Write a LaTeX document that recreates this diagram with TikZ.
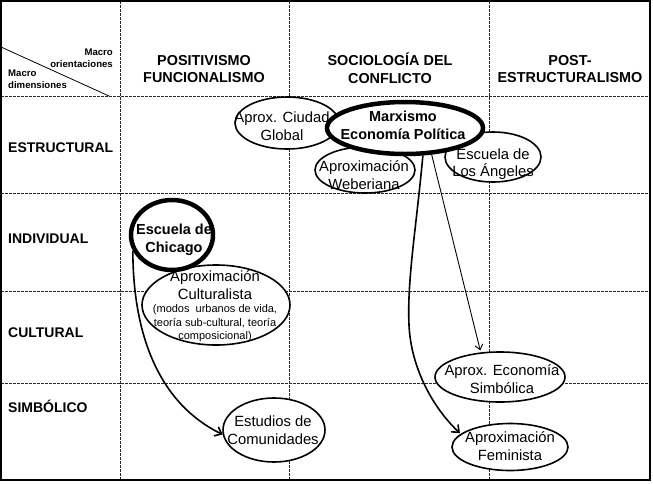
\documentclass[tikz,border=0pt]{standalone}
\usepackage{fontspec}
\setmainfont{Liberation Sans}
\usetikzlibrary{shapes.geometric,arrows.meta}
\begin{document}
\begin{tikzpicture}[x=1pt,y=-1pt,
  gridline/.style={line width=0.7pt, dash pattern=on 2.5pt off 1.5pt, black!85},
  ell/.style={draw, ellipse, fill=white, line width=1.6pt, inner sep=0pt},
  thickell/.style={ell, line width=4.5pt},
  etext/.style={align=center, font=\fontsize{14.8}{17.5}\selectfont, inner sep=0pt},
  btext/.style={align=center, font=\bfseries\fontsize{14.5}{18}\selectfont, inner sep=0pt},
  stext/.style={align=center, font=\fontsize{11}{13.5}\selectfont, inner sep=0pt},
  hdr/.style={align=center, font=\bfseries\fontsize{14.4}{17.5}\selectfont, inner sep=0pt},
  rowlab/.style={anchor=base west, font=\bfseries\fontsize{14}{17}\selectfont, inner sep=0pt},
  corner/.style={font=\bfseries\fontsize{9.6}{11.5}\selectfont, inner sep=0pt},
  arr/.style={line width=1.6pt, -{Straight Barb[length=6pt,width=10pt]}},
  thinarr/.style={line width=0.9pt, -{Straight Barb[length=5pt,width=8pt]}}
]
\useasboundingbox (0,0) rectangle (653,483);
% grid
\foreach \yy in {96,193,291,383} \draw[gridline] (1,\yy) -- (650,\yy);
\foreach \xx in {120,289,489} \draw[gridline] (\xx,1) -- (\xx,480);
\draw[line width=2pt] (1,1) rectangle (650,480);
% corner
\coordinate (d1) at (1,47);
\coordinate (d2) at (109,96);
\draw[line width=0.8pt] (d1) -- (d2);
\node[corner, anchor=east, align=right] (mo) at (113,58) {Macro\\orientaciones};
\node[corner, anchor=west, align=left] (md) at (8,79) {Macro\\dimensiones};
% headers
\node[hdr] (h1) at (204,69) {POSITIVISMO\\FUNCIONALISMO};
\node[hdr] (h2) at (390,68) {SOCIOLOGÍA DEL\\CONFLICTO};
\node[hdr] (h3) at (570,69) {POST-\\ESTRUCTURALISMO};
% row labels
\node[rowlab] (r1) at (8,152) {ESTRUCTURAL};
\node[rowlab] (r2) at (8,243) {INDIVIDUAL};
\node[rowlab] (r3) at (8,337) {CULTURAL};
\node[rowlab] (r4) at (8,412) {SIMBÓLICO};
% ellipses
\node[ell, minimum width=104, minimum height=52] (ciudad) at (287,123) {};
\node[ell, minimum width=100, minimum height=46] (weber) at (365,170) {};
\node[ell, minimum width=96, minimum height=50] (angeles) at (493,157) {};
\node[ell, minimum width=148, minimum height=80] (cultur) at (216,305) {};
\node[ell, minimum width=130, minimum height=50] (simb) at (500,377) {};
\node[ell, minimum width=116, minimum height=47] (femin) at (510,447) {};
\node[ell, minimum width=102, minimum height=64] (estud) at (274,430) {};
\node[thickell, minimum width=156, minimum height=52] (marx) at (405,128) {};
\node[thickell, minimum width=82, minimum height=70] (chicago) at (172,235) {};
% arrows
\draw[arr] (chicago.202) .. controls (133,340) and (162,405) .. (estud.185);
\draw[thinarr, shorten >=2pt] (marx.-45) -- (simb.128);
\draw[arr, shorten >=1pt] (marx.-57) .. controls (416,230) and (407,280) .. (409,325)
   .. controls (411,370) and (435,410) .. (femin.165);
% texts
\node[etext] (ciudadT) at (282,126) {Aprox. Ciudad\\Global};
\node[btext] (marxT) at (403,125) {Marxismo\\Economía Política};
\node[etext] (weberT) at (364,175) {Aproximación\\Weberiana};
\node[etext] (angelesT) at (493,164) {Escuela de\\Los Ángeles};
\node[btext] (chicagoT) at (174,240) {Escuela de\\Chicago};
\node[etext] (culturT1) at (215,285) {Aproximación\\Culturalista};
\node[stext] (culturT2) at (215,323.5) {(modos~ urbanos de vida,\\teoría sub-cultural, teoría\\composicional)};
\node[etext] (simbT) at (502,379) {Aprox. Economía\\Simbólica};
\node[etext] (feminT) at (510,446) {Aproximación\\Feminista};
\node[etext] (estudT) at (273,430) {Estudios de\\Comunidades};
\end{tikzpicture}
\end{document}
